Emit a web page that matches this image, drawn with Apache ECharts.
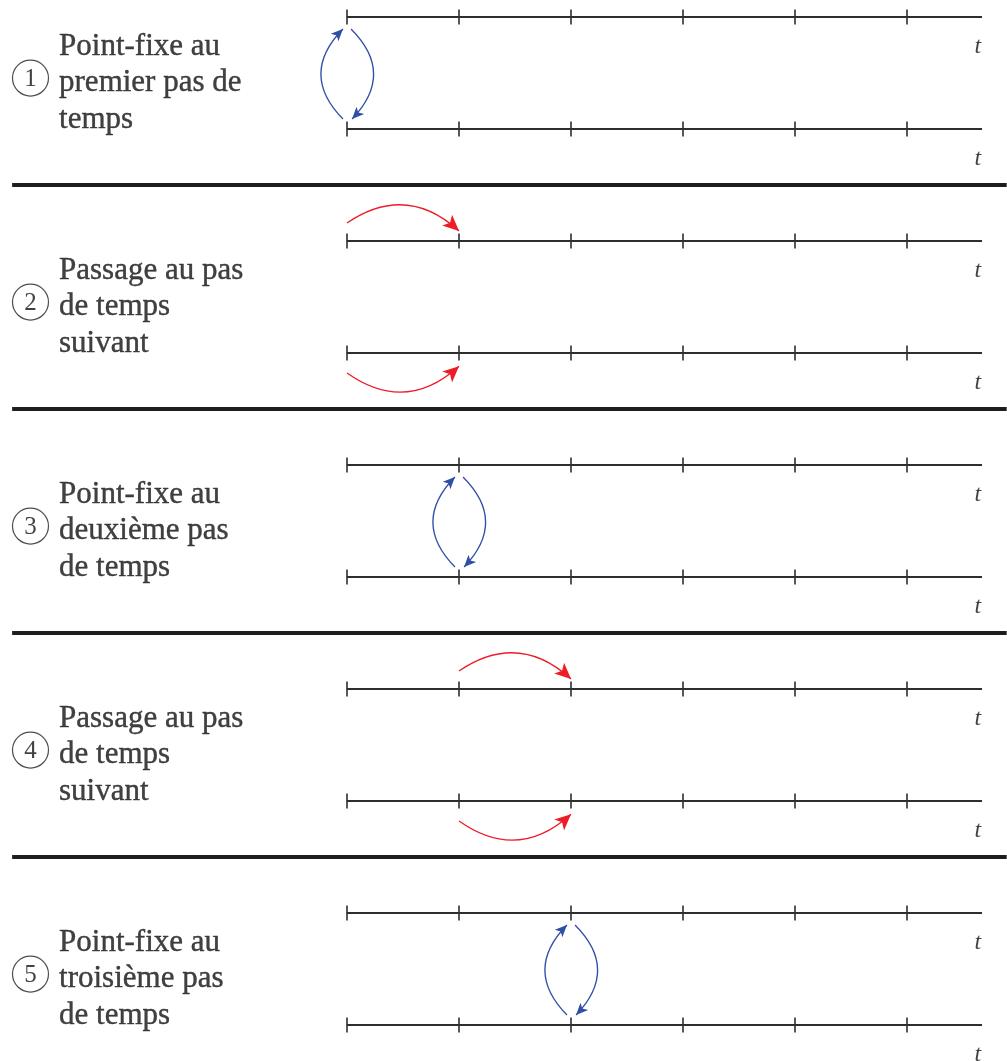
<!DOCTYPE html>
<html>
<head>
<meta charset="utf-8">
<script src="https://cdn.jsdelivr.net/npm/echarts@6/dist/echarts.min.js"></script>
<style>
html,body{margin:0;padding:0;background:#fff;}
#chart{width:1007px;height:1061px;}
</style>
</head>
<body>
<div id="chart"></div>
<script>
// ---- data ----
const timeSteps = [0, 1, 2, 3, 4, 5];          // ticks on each time axis
const axisEnd = 5.67;                           // axis runs a bit past the last tick
const timeLabel = 't';
const panelNumbers = ['1', '2', '3', '4', '5'];
const panelTitles = [
  ['Point-fixe au', 'premier pas de', 'temps'],
  ['Passage au pas', 'de temps', 'suivant'],
  ['Point-fixe au', 'deuxième pas', 'de temps'],
  ['Passage au pas', 'de temps', 'suivant'],
  ['Point-fixe au', 'troisième pas', 'de temps']
];
const panelKinds = ['fixe', 'passage', 'fixe', 'passage', 'fixe'];
const panelSteps = [0, 0, 1, 1, 2];             // step where the panel's action happens

// ---- styles ----
const INK = '#111111';
const AXIS = '#2e2e2e';
const BLUE = '#2f4fa6';
const RED = '#ee1c24';
const U = 112; // pixels per unit (both directions)

const nPanels = panelTitles.length;
const rows = [];
for (let p = 0; p < nPanels; p++) { rows.push(2 * p, 2 * p + 1); }

// axis lines
const axisLines = rows.map(r => ({ coords: [[timeSteps[0], r], [axisEnd, r]] }));
// ticks
const ticks = [];
rows.forEach(r => timeSteps.forEach(s => ticks.push([s, r])));
// t labels
const tLabels = rows.map(r => [5.633, r + 0.262]);
// separators
const separators = [];
for (let p = 0; p < nPanels - 1; p++) {
  separators.push({ coords: [[-2.99, 2 * p + 1.5], [5.89, 2 * p + 1.5]] });
}
// arrows
const blueArcs = [], redArcs = [];
panelKinds.forEach((kind, p) => {
  const k = panelSteps[p], L1 = 2 * p, L2 = 2 * p + 1;
  if (kind === 'fixe') {
    blueArcs.push({ coords: [[k - 0.036, L1 + 0.911], [k - 0.036, L1 + 0.107]], lineStyle: { curveness: 0.49 } });
    blueArcs.push({ coords: [[k + 0.036, L1 + 0.107], [k + 0.045, L1 + 0.911]], lineStyle: { curveness: 0.49 } });
  } else {
    redArcs.push({ coords: [[k, L1 - 0.161], [k + 1.0, L1 - 0.09]], lineStyle: { curveness: 0.393 } });
    redArcs.push({ coords: [[k, L2 + 0.179], [k + 1.0, L2 + 0.118]], lineStyle: { curveness: -0.40 } });
  }
});
// panel texts and circled numbers
const textPoints = panelTitles.map((t, p) => ({ value: [-2.571, 2 * p + 0.5 + 0.092], lines: t }));
const circlePoints = panelNumbers.map((n, p) => ({ value: [-2.826, 2 * p + 0.5 + 0.045], num: n }));

const chart = echarts.init(document.getElementById('chart'), null, { renderer: 'canvas' });
chart.setOption({
  animation: false,
  backgroundColor: '#ffffff',
  grid: { left: 11, top: 17 - 0.15 * U, width: 8.89 * U, height: 9.45 * U, containLabel: false, outerBoundsMode: 'none' },
  xAxis: { type: 'value', min: -3, max: 5.89, show: false },
  yAxis: { type: 'value', min: -0.15, max: 9.3, inverse: true, show: false },
  series: [
    {
      type: 'lines', coordinateSystem: 'cartesian2d', silent: true, z: 2,
      symbol: 'none', lineStyle: { color: '#1e1e1e', width: 4, opacity: 1 },
      data: separators
    },
    {
      type: 'lines', coordinateSystem: 'cartesian2d', silent: true, z: 2,
      symbol: 'none', lineStyle: { color: AXIS, width: 2, opacity: 1 },
      data: axisLines
    },
    {
      type: 'scatter', silent: true, z: 3,
      symbol: 'rect', symbolSize: [2, 15],
      itemStyle: { color: AXIS },
      data: ticks
    },
    {
      type: 'scatter', silent: true, z: 3, symbolSize: 0,
      label: { show: true, position: 'inside', formatter: timeLabel,
        fontFamily: 'Liberation Serif', fontStyle: 'italic', fontSize: 24, color: INK },
      data: tLabels
    },
    {
      type: 'lines', coordinateSystem: 'cartesian2d', silent: true, z: 4,
      symbol: ['none', 'arrow'], symbolSize: [1, [8, 12]],
      lineStyle: { color: BLUE, width: 1.3, opacity: 1 },
      itemStyle: { color: BLUE },
      data: blueArcs
    },
    {
      type: 'lines', coordinateSystem: 'cartesian2d', silent: true, z: 4,
      symbol: ['none', 'arrow'], symbolSize: [1, [11, 16]],
      lineStyle: { color: RED, width: 1.3, opacity: 1 },
      itemStyle: { color: RED },
      data: redArcs
    },
    {
      type: 'scatter', silent: true, z: 3, symbolSize: 0,
      label: { show: true, position: 'right', distance: 0,
        formatter: p => p.data.lines.join('\n'),
        fontFamily: 'Liberation Serif', fontSize: 31, lineHeight: 36.5, color: INK, align: 'left',
        textBorderColor: INK, textBorderWidth: 0.4 },
      data: textPoints
    },
    {
      type: 'scatter', silent: true, z: 3,
      symbol: 'circle', symbolSize: 36,
      itemStyle: { color: 'rgba(0,0,0,0)', borderColor: '#222', borderWidth: 1.2 },
      label: { show: true, position: 'inside', formatter: p => p.data.num, offset: [0, 1],
        fontFamily: 'Liberation Serif', fontSize: 25, color: INK },
      data: circlePoints
    }
  ]
});
</script>
</body>
</html>
